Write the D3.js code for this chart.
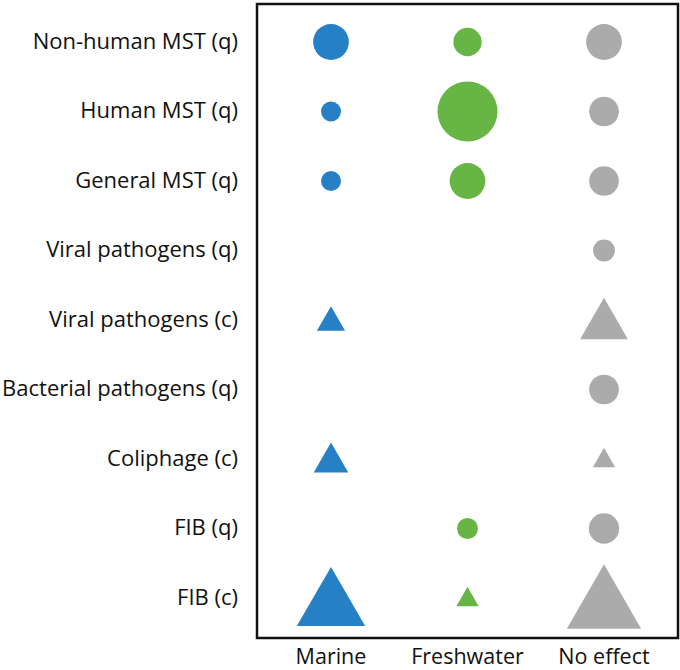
<!DOCTYPE html>
<html><head><meta charset="utf-8">
<script src="https://cdn.jsdelivr.net/npm/d3@7"></script>
<style>body{margin:0;background:#fff}svg{display:block}text{font-family:"Open Sans",sans-serif;fill:#111}</style>
</head><body><svg id="c" width="680" height="670"></svg>
<script>
const categories = ["Non-human MST (q)","Human MST (q)","General MST (q)","Viral pathogens (q)","Viral pathogens (c)","Bacterial pathogens (q)","Coliphage (c)","FIB (q)","FIB (c)"];
const columns = ["Marine","Freshwater","No effect"];
// relative symbol sizes (area units); 0 = no symbol
const marine     = [3.2, 1, 1, 0, 1.6, 0, 2.4, 0, 9.4];
const freshwater = [2.0, 9, 3.2, 0, 0, 0, 0, 1.1, 1];
const noEffect   = [3.2, 2.2, 2.2, 1.2, 4.6, 2.2, 1, 2.3, 11.1];
const colors = ["#2680c6","#67b545","#ababab"];

const series = [marine, freshwater, noEffect];
const svg = d3.select("#c");
const x = d3.scalePoint().domain(columns).range([331, 604]);
const y = d3.scalePoint().domain(categories).range([42, 598]);
const rCircle = d3.scaleSqrt().domain([0, 1]).range([0, 10]);
const sTri = d3.scaleSqrt().domain([0, 1]).range([0, 22.3]);

svg.append("rect").attr("x", 257).attr("y", 4).attr("width", 421).attr("height", 634)
  .attr("fill", "none").attr("stroke", "#111").attr("stroke-width", 2.5);

const cells = [];
series.forEach((vals, ci) => vals.forEach((v, ri) => {
  if (v > 0) cells.push({col: columns[ci], cat: categories[ri], v, color: colors[ci], tri: categories[ri].endsWith("(c)")});
}));

svg.selectAll("circle.m").data(cells.filter(d => !d.tri)).join("circle")
  .attr("cx", d => x(d.col)).attr("cy", d => y(d.cat)).attr("r", d => rCircle(d.v)).attr("fill", d => d.color);

svg.selectAll("path.t").data(cells.filter(d => d.tri)).join("path")
  .attr("fill", d => d.color)
  .attr("d", d => {
    const s = sTri(d.v), h = s * Math.sqrt(3) / 2, cx = x(d.col), cy = y(d.cat) - 1.5;
    return `M${cx},${cy - h/2}L${cx + s/2},${cy + h/2}L${cx - s/2},${cy + h/2}Z`;
  });

svg.selectAll("text.cat").data(categories).join("text")
  .attr("x", 238).attr("y", d => y(d) + 6.5).attr("text-anchor", "end")
  .attr("font-size", 22).text(d => d);

svg.selectAll("text.col").data(columns).join("text")
  .attr("x", d => x(d)).attr("y", 664).attr("text-anchor", "middle")
  .attr("font-size", 21.5).text(d => d);
</script></body></html>
